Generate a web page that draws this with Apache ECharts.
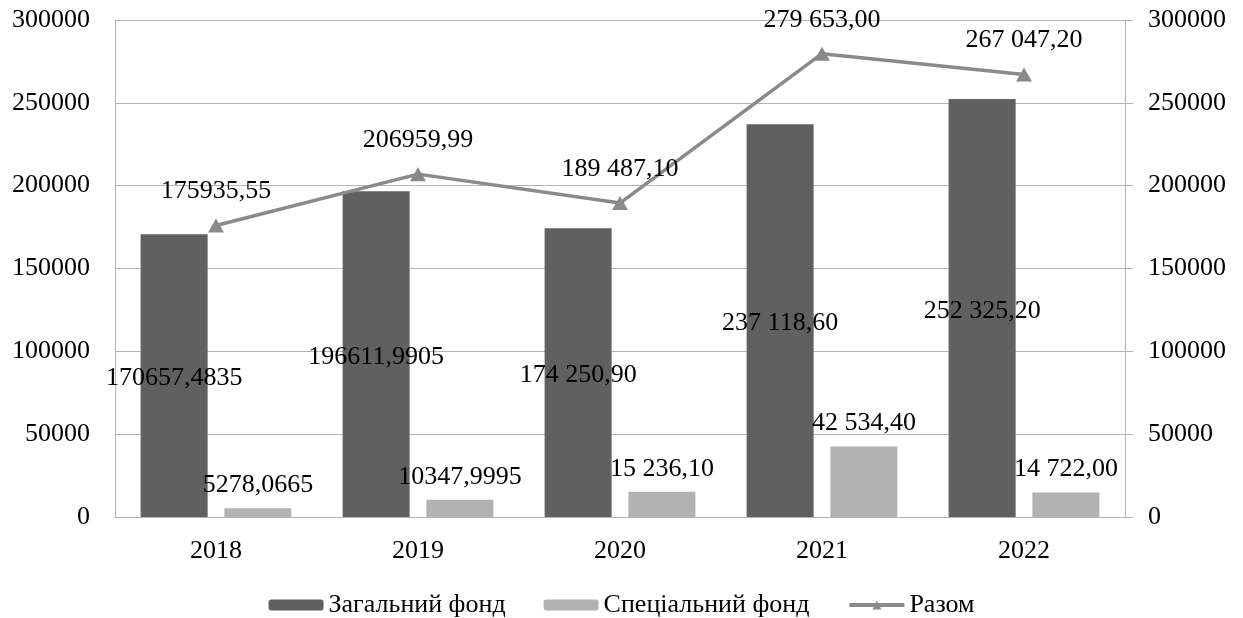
<!DOCTYPE html>
<html>
<head>
<meta charset="utf-8">
<script src="https://cdn.jsdelivr.net/npm/echarts@6/dist/echarts.min.js"></script>
<style>
  html, body { margin: 0; padding: 0; background: #fff; }
  #chart { width: 1243px; height: 618px; }
</style>
</head>
<body>
<div id="chart"></div>
<script>
// Budget funds by year
const years = ['2018', '2019', '2020', '2021', '2022'];
const generalFund = [170657.4835, 196611.9905, 174250.90, 237118.60, 252325.20];
const specialFund = [5278.0665, 10347.9995, 15236.10, 42534.40, 14722.00];
const totalFund = [175935.55, 206959.99, 189487.10, 279653.00, 267047.20];

// Value labels as printed
const generalLabels = ['170657,4835', '196611,9905', '174 250,90', '237 118,60', '252 325,20'];
const specialLabels = ['5278,0665', '10347,9995', '15 236,10', '42 534,40', '14 722,00'];
const totalLabels = ['175935,55', '206959,99', '189 487,10', '279 653,00', '267 047,20'];

const seriesNames = ['Загальний фонд', 'Спеціальний фонд', 'Разом'];

const FONT = '"Liberation Serif", "Times New Roman", serif';
const FS = 26;
const GRID_COLOR = '#b4b4b4';
const LINE_COLOR = '#8a8a8a';

const chart = echarts.init(document.getElementById('chart'), null, { renderer: 'canvas' });

const valueAxis = (pos) => ({
  type: 'value',
  position: pos,
  min: 0,
  max: 300000,
  interval: 50000,
  axisLine: { show: true, lineStyle: { color: GRID_COLOR, width: 1 } },
  axisTick: { show: pos === 'right', length: 8, lineStyle: { color: GRID_COLOR } },
  splitLine: { show: pos === 'left', lineStyle: { color: GRID_COLOR, width: 1 } },
  axisLabel: {
    fontFamily: FONT, fontSize: FS, color: '#000',
    margin: pos === 'left' ? 25 : 23,
    formatter: (v) => String(v)
  }
});

chart.setOption({
  animation: false,
  textStyle: { fontFamily: FONT },
  grid: { left: 115, right: 118, top: 20, bottom: 101 },
  legend: {
    data: [
      { name: seriesNames[0] },
      { name: seriesNames[1] },
      { name: seriesNames[2], lineStyle: { width: 4, color: LINE_COLOR } }
    ],
    left: 'center',
    top: 587,
    itemWidth: 55,
    itemHeight: 11,
    itemGap: 38,
    textStyle: { fontFamily: FONT, fontSize: FS, color: '#000' }
  },
  xAxis: {
    type: 'category',
    data: years,
    axisLine: { lineStyle: { color: GRID_COLOR, width: 1 } },
    axisTick: { show: false },
    axisLabel: { fontFamily: FONT, fontSize: FS, color: '#000', margin: 21 }
  },
  yAxis: [valueAxis('left'), valueAxis('right')],
  series: [
    {
      name: seriesNames[0],
      type: 'bar',
      data: generalFund,
      barWidth: 67,
      barGap: '25%',
      itemStyle: { color: '#606060' },
      label: {
        show: true, position: 'inside', offset: [0, 3], color: '#000',
        fontFamily: FONT, fontSize: FS,
        formatter: (p) => generalLabels[p.dataIndex]
      }
    },
    {
      name: seriesNames[1],
      type: 'bar',
      data: specialFund,
      barWidth: 67,
      itemStyle: { color: '#b2b2b2' },
      label: {
        show: true, position: 'top', distance: 10, color: '#000',
        fontFamily: FONT, fontSize: FS,
        formatter: (p) => specialLabels[p.dataIndex]
      }
    },
    {
      name: seriesNames[2],
      type: 'line',
      yAxisIndex: 1,
      data: totalFund,
      symbol: 'triangle',
      symbolSize: [16, 14],
      lineStyle: { color: LINE_COLOR, width: 3.5 },
      itemStyle: { color: LINE_COLOR },
      label: {
        show: true, position: 'top', distance: 14, color: '#000',
        fontFamily: FONT, fontSize: FS,
        formatter: (p) => totalLabels[p.dataIndex]
      },
      z: 5
    }
  ]
});
</script>
</body>
</html>
